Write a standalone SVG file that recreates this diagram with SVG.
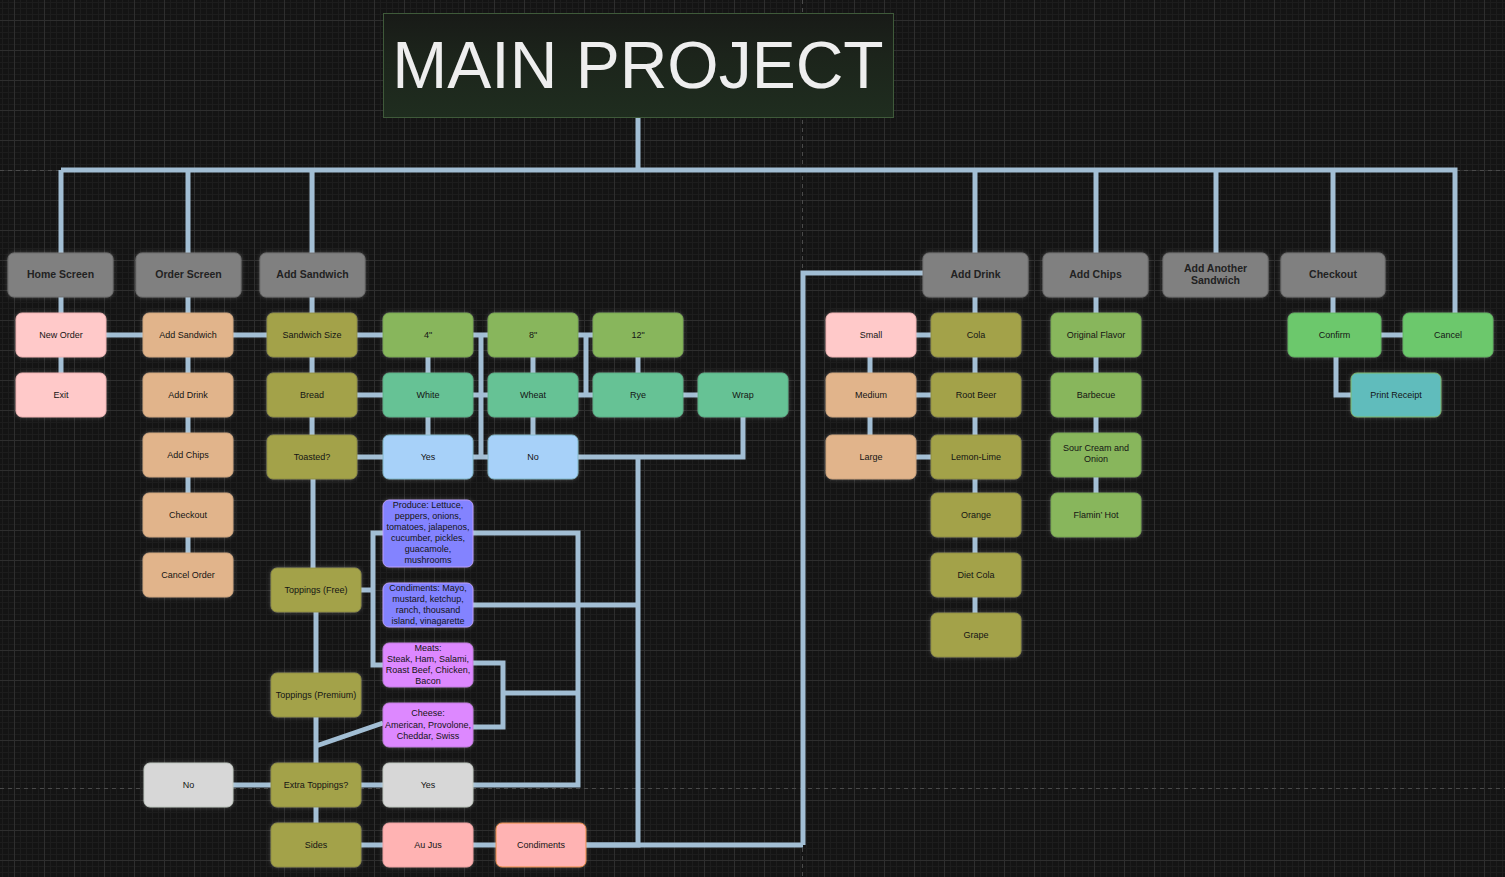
<svg xmlns="http://www.w3.org/2000/svg" width="1505" height="877" viewBox="0 0 1505 877">
<defs>
<pattern id="grid" x="14" y="20" width="30" height="30" patternUnits="userSpaceOnUse">
<rect width="30" height="30" fill="#141414"/>
<path d="M6.5 0V30M12.5 0V30M18.5 0V30M24.5 0V30M0 6.5H30M0 12.5H30M0 18.5H30M0 24.5H30" stroke="#1d1d1d" stroke-width="1"/>
<path d="M0.5 0V30M0 0.5H30" stroke="#2e2e2e" stroke-width="1"/>
</pattern>
<linearGradient id="titleG" x1="0" y1="0" x2="0" y2="1">
<stop offset="0" stop-color="#181a17"/>
<stop offset="0.4" stop-color="#1c241b"/>
<stop offset="1" stop-color="#1f2d1f"/>
</linearGradient>
<filter id="glow" x="-20%" y="-20%" width="140%" height="140%">
<feDropShadow dx="0" dy="0" stdDeviation="2" flood-color="#ffffff" flood-opacity="0.22"/>
</filter>
</defs>
<style>
.n rect{stroke-width:1;filter:url(#glow)}
.n text{font-family:"Liberation Sans",Arial,sans-serif;font-size:9px;fill:#141414;text-anchor:middle}
.hd rect{fill:#808080;stroke:#6f6f6f}
.hd text{font-size:10.5px;font-weight:bold;fill:#222222}
.pk rect{fill:#ffc9c9;stroke:#f0b3b3}
.tn rect{fill:#e1b48b;stroke:#cfa57d}
.ol rect{fill:#a3a24a;stroke:#8f8e40}
.lg rect{fill:#88b65c;stroke:#77a64f}
.tg rect{fill:#66c295;stroke:#58b086}
.lb rect{fill:#a7d1f9;stroke:#7fb6c8}
.pw rect{fill:#8383ff;stroke:#b99cff}
.vi rect{fill:#dd88ff;stroke:#c27ae0}
.gy rect{fill:#d7d7d7;stroke:#bfc7bf}
.sa rect{fill:#ffb3b3;stroke:#eda0a0}
.so rect{fill:#ffb3b3;stroke:#e8893e}
.gr rect{fill:#6cc86c;stroke:#5fb35f}
.tl rect{fill:#61bcbc;stroke:#7cb86a}
#connectors path{fill:none;stroke:#a2bed4;stroke-width:5;stroke-linejoin:miter}
.pb{fill:none;stroke:#4a4a4a;stroke-width:1;stroke-dasharray:4 4}
</style>
<rect width="1505" height="877" fill="url(#grid)"/>
<g id="pagebreaks">
<path class="pb" d="M0 170.5H1505M0 788.5H1505M802.5 0V877"/>
</g>
<g id="connectors">
<path d="M638 118V170M61 170H1455V313M61 170V253M188 170V253M312 170V253M975 170V253M1096 170V253M1216 170V253M1333 170V253"/>
<path d="M61 297V373M106 335H143M188 297V553M233 335H267"/>
<path d="M312 297V435M313 479V568M316 612V763M316 807V823M383 723L316 746"/>
<path d="M357 335H383M473 335H488M578 335H593M357 395H383M473 395H488M578 395H593M683 395H698M357 457H383M473 457H488"/>
<path d="M481 335V457M586 335V395M428 357V435M533 357V435M638 357V373"/>
<path d="M578 457H743V417M638 457V845H586M473 605H638"/>
<path d="M383 533H373V665H383M361 590H373M473 533H578V785H473M473 663H503V727H473M503 693H578"/>
<path d="M233 785H271M361 785H383M361 845H383M473 845H496M803 845V273H923M586 845H803"/>
<path d="M975 297V613M916 335H931M916 395H931M916 457H931M870 357V435"/>
<path d="M1096 297V493M1333 297V313M1381 335H1403M1336 357V395H1351"/>
</g>
<g id="title">
<rect x="383.5" y="13.5" width="510" height="104" fill="url(#titleG)" stroke="#3f5a3a" stroke-width="1"/>
<text x="638" y="88" font-family="'Liberation Sans',Arial,sans-serif" font-size="66" fill="#eeeeee" text-anchor="middle">MAIN PROJECT</text>
</g>
<g id="home-screen" class="n hd"><rect x="8" y="253" width="105" height="44" rx="6"/><text x="60.5" y="278">Home Screen</text></g>
<g id="order-screen" class="n hd"><rect x="136" y="253" width="105" height="44" rx="6"/><text x="188.5" y="278">Order Screen</text></g>
<g id="add-sandwich-h" class="n hd"><rect x="260" y="253" width="105" height="44" rx="6"/><text x="312.5" y="278">Add Sandwich</text></g>
<g id="add-drink-h" class="n hd"><rect x="923" y="253" width="105" height="44" rx="6"/><text x="975.5" y="278">Add Drink</text></g>
<g id="add-chips-h" class="n hd"><rect x="1043" y="253" width="105" height="44" rx="6"/><text x="1095.5" y="278">Add Chips</text></g>
<g id="add-another" class="n hd"><rect x="1163" y="253" width="105" height="44" rx="6"/><text x="1215.5" y="272">Add Another</text><text x="1215.5" y="284">Sandwich</text></g>
<g id="checkout-h" class="n hd"><rect x="1281" y="253" width="104" height="44" rx="6"/><text x="1333" y="278">Checkout</text></g>

<g id="new-order" class="n pk"><rect x="16" y="313" width="90" height="44" rx="6"/><text x="61" y="338">New Order</text></g>
<g id="exit" class="n pk"><rect x="16" y="373" width="90" height="44" rx="6"/><text x="61" y="398">Exit</text></g>
<g id="small" class="n pk"><rect x="826" y="313" width="90" height="44" rx="6"/><text x="871" y="338">Small</text></g>

<g id="o-add-sandwich" class="n tn"><rect x="143" y="313" width="90" height="44" rx="6"/><text x="188" y="338">Add Sandwich</text></g>
<g id="o-add-drink" class="n tn"><rect x="143" y="373" width="90" height="44" rx="6"/><text x="188" y="398">Add Drink</text></g>
<g id="o-add-chips" class="n tn"><rect x="143" y="433" width="90" height="44" rx="6"/><text x="188" y="458">Add Chips</text></g>
<g id="o-checkout" class="n tn"><rect x="143" y="493" width="90" height="44" rx="6"/><text x="188" y="518">Checkout</text></g>
<g id="o-cancel" class="n tn"><rect x="143" y="553" width="90" height="44" rx="6"/><text x="188" y="578">Cancel Order</text></g>
<g id="medium" class="n tn"><rect x="826" y="373" width="90" height="44" rx="6"/><text x="871" y="398">Medium</text></g>
<g id="large" class="n tn"><rect x="826" y="435" width="90" height="44" rx="6"/><text x="871" y="460">Large</text></g>

<g id="sandwich-size" class="n ol"><rect x="267" y="313" width="90" height="44" rx="6"/><text x="312" y="338">Sandwich Size</text></g>
<g id="bread" class="n ol"><rect x="267" y="373" width="90" height="44" rx="6"/><text x="312" y="398">Bread</text></g>
<g id="toasted" class="n ol"><rect x="267" y="435" width="90" height="44" rx="6"/><text x="312" y="460">Toasted?</text></g>
<g id="toppings-free" class="n ol"><rect x="271" y="568" width="90" height="44" rx="6"/><text x="316" y="593">Toppings (Free)</text></g>
<g id="toppings-premium" class="n ol"><rect x="271" y="673" width="90" height="44" rx="6"/><text x="316" y="698">Toppings (Premium)</text></g>
<g id="extra-toppings" class="n ol"><rect x="271" y="763" width="90" height="44" rx="6"/><text x="316" y="788">Extra Toppings?</text></g>
<g id="sides" class="n ol"><rect x="271" y="823" width="90" height="44" rx="6"/><text x="316" y="848">Sides</text></g>
<g id="cola" class="n ol"><rect x="931" y="313" width="90" height="44" rx="6"/><text x="976" y="338">Cola</text></g>
<g id="root-beer" class="n ol"><rect x="931" y="373" width="90" height="44" rx="6"/><text x="976" y="398">Root Beer</text></g>
<g id="lemon-lime" class="n ol"><rect x="931" y="435" width="90" height="44" rx="6"/><text x="976" y="460">Lemon-Lime</text></g>
<g id="orange" class="n ol"><rect x="931" y="493" width="90" height="44" rx="6"/><text x="976" y="518">Orange</text></g>
<g id="diet-cola" class="n ol"><rect x="931" y="553" width="90" height="44" rx="6"/><text x="976" y="578">Diet Cola</text></g>
<g id="grape" class="n ol"><rect x="931" y="613" width="90" height="44" rx="6"/><text x="976" y="638">Grape</text></g>

<g id="size4" class="n lg"><rect x="383" y="313" width="90" height="44" rx="6"/><text x="428" y="338">4"</text></g>
<g id="size8" class="n lg"><rect x="488" y="313" width="90" height="44" rx="6"/><text x="533" y="338">8"</text></g>
<g id="size12" class="n lg"><rect x="593" y="313" width="90" height="44" rx="6"/><text x="638" y="338">12"</text></g>
<g id="original" class="n lg"><rect x="1051" y="313" width="90" height="44" rx="6"/><text x="1096" y="338">Original Flavor</text></g>
<g id="barbecue" class="n lg"><rect x="1051" y="373" width="90" height="44" rx="6"/><text x="1096" y="398">Barbecue</text></g>
<g id="sour-cream" class="n lg"><rect x="1051" y="433" width="90" height="44" rx="6"/><text x="1096" y="451">Sour Cream and</text><text x="1096" y="462">Onion</text></g>
<g id="flamin" class="n lg"><rect x="1051" y="493" width="90" height="44" rx="6"/><text x="1096" y="518">Flamin’ Hot</text></g>

<g id="white" class="n tg"><rect x="383" y="373" width="90" height="44" rx="6"/><text x="428" y="398">White</text></g>
<g id="wheat" class="n tg"><rect x="488" y="373" width="90" height="44" rx="6"/><text x="533" y="398">Wheat</text></g>
<g id="rye" class="n tg"><rect x="593" y="373" width="90" height="44" rx="6"/><text x="638" y="398">Rye</text></g>
<g id="wrap" class="n tg"><rect x="698" y="373" width="90" height="44" rx="6"/><text x="743" y="398">Wrap</text></g>

<g id="toast-yes" class="n lb"><rect x="383" y="435" width="90" height="44" rx="6"/><text x="428" y="460">Yes</text></g>
<g id="toast-no" class="n lb"><rect x="488" y="435" width="90" height="44" rx="6"/><text x="533" y="460">No</text></g>

<g id="produce" class="n pw"><rect x="383" y="500" width="90" height="67" rx="6"/><text x="428" y="508">Produce: Lettuce,</text><text x="428" y="519">peppers, onions,</text><text x="428" y="530">tomatoes, jalapenos,</text><text x="428" y="541">cucumber, pickles,</text><text x="428" y="552">guacamole,</text><text x="428" y="563">mushrooms</text></g>
<g id="condiments-t" class="n pw"><rect x="383" y="583" width="90" height="44" rx="6"/><text x="428" y="591">Condiments: Mayo,</text><text x="428" y="602">mustard, ketchup,</text><text x="428" y="613">ranch, thousand</text><text x="428" y="624">island, vinagarette</text></g>
<g id="meats" class="n vi"><rect x="383" y="643" width="90" height="44" rx="6"/><text x="428" y="651">Meats:</text><text x="428" y="662">Steak, Ham, Salami,</text><text x="428" y="673">Roast Beef, Chicken,</text><text x="428" y="684">Bacon</text></g>
<g id="cheese" class="n vi"><rect x="383" y="703" width="90" height="44" rx="6"/><text x="428" y="716">Cheese:</text><text x="428" y="728">American, Provolone,</text><text x="428" y="739">Cheddar, Swiss</text></g>

<g id="extra-no" class="n gy"><rect x="144" y="763" width="89" height="44" rx="6"/><text x="188.5" y="788">No</text></g>
<g id="extra-yes" class="n gy"><rect x="383" y="763" width="90" height="44" rx="6"/><text x="428" y="788">Yes</text></g>
<g id="au-jus" class="n sa"><rect x="383" y="823" width="90" height="44" rx="6"/><text x="428" y="848">Au Jus</text></g>
<g id="condiments-s" class="n so"><rect x="496" y="823" width="90" height="44" rx="6"/><text x="541" y="848">Condiments</text></g>

<g id="confirm" class="n gr"><rect x="1288" y="313" width="93" height="44" rx="6"/><text x="1334.5" y="338">Confirm</text></g>
<g id="cancel" class="n gr"><rect x="1403" y="313" width="90" height="44" rx="6"/><text x="1448" y="338">Cancel</text></g>
<g id="print-receipt" class="n tl"><rect x="1351" y="373" width="90" height="44" rx="6"/><text x="1396" y="398">Print Receipt</text></g>
</svg>
